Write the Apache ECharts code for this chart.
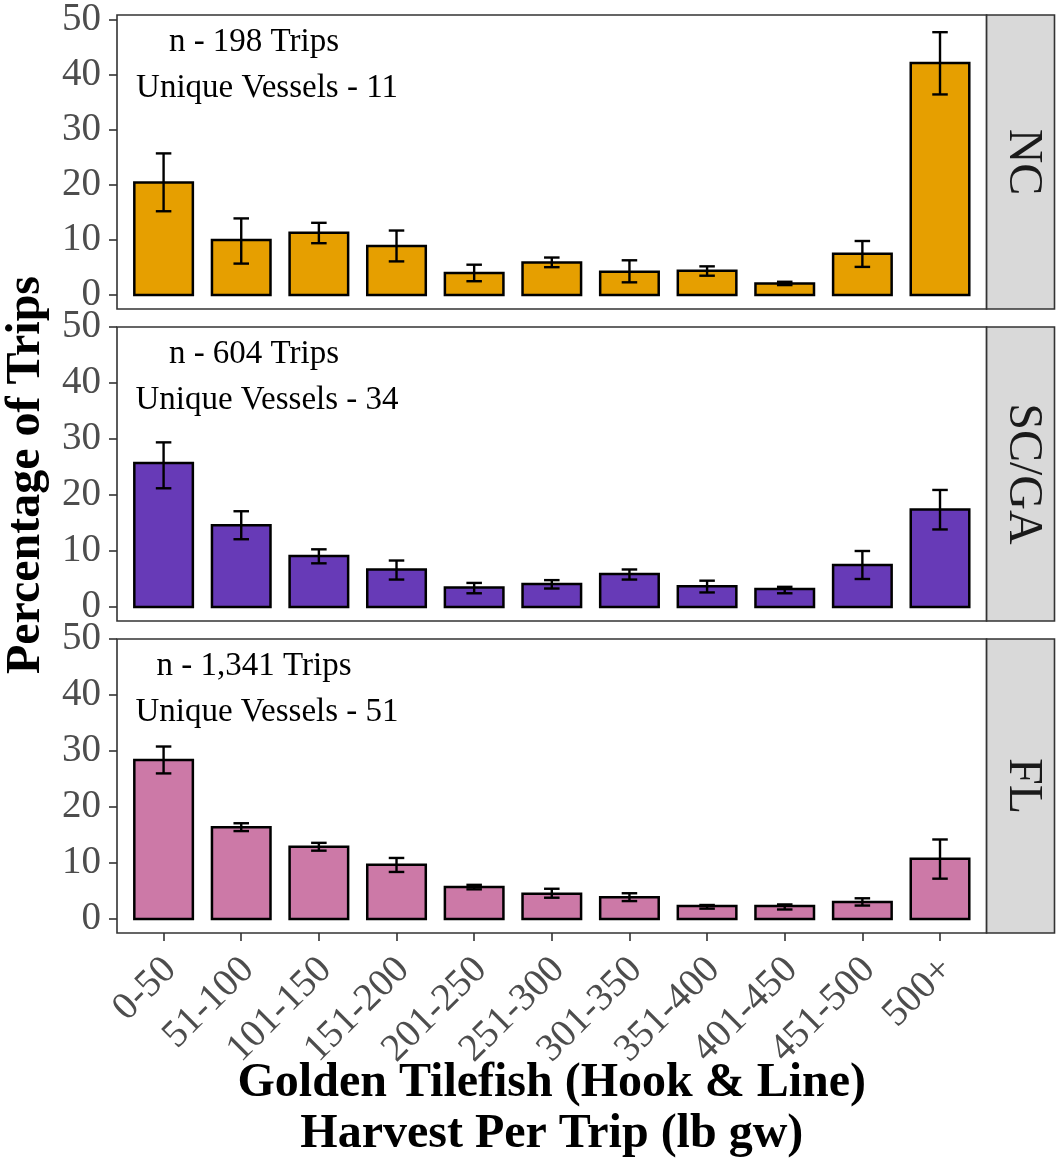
<!DOCTYPE html>
<html><head><meta charset="utf-8">
<script src="https://cdn.jsdelivr.net/npm/echarts@6/dist/echarts.min.js"></script>
<style>html,body{margin:0;padding:0;background:#fff}#c{width:1056px;height:1163px}</style>
</head><body><div id="c"></div>
<script>
// ---------- data ----------
const categories = ['0-50','51-100','101-150','151-200','201-250','251-300','301-350','351-400','401-450','451-500','500+'];
const yMin = 0, yMax = 50, yStep = 10;
const regions = ['NC', 'SC/GA', 'FL'];
const tripLabels = ['n - 198 Trips', 'n - 604 Trips', 'n - 1,341 Trips'];
const vesselLabels = ['Unique Vessels - 11', 'Unique Vessels - 34', 'Unique Vessels - 51'];

const ncPct  = [20.4, 10.0, 11.3, 8.9, 4.0, 5.9, 4.2, 4.4, 2.1, 7.5, 42.1];
const ncLow  = [15.2, 5.7, 9.4, 6.1, 2.5, 5.05, 2.3, 3.5, 1.8, 5.1, 36.4];
const ncHigh = [25.7, 13.9, 13.1, 11.7, 5.5, 6.8, 6.3, 5.2, 2.4, 9.8, 47.7];

const scPct  = [25.7, 14.6, 9.1, 6.7, 3.5, 4.1, 5.9, 3.7, 3.2, 7.5, 17.4];
const scLow  = [21.2, 12.1, 7.8, 4.9, 2.45, 3.3, 4.9, 2.6, 2.45, 5.0, 13.85];
const scHigh = [29.4, 17.1, 10.3, 8.3, 4.3, 4.8, 6.7, 4.7, 3.6, 10.0, 20.9];

const flPct  = [28.4, 16.4, 12.9, 9.7, 5.7, 4.5, 3.9, 2.3, 2.3, 3.05, 10.75];
const flLow  = [26.0, 15.7, 12.2, 8.4, 5.3, 3.8, 3.2, 1.85, 1.7, 2.4, 7.2];
const flHigh = [30.8, 17.1, 13.6, 10.9, 6.1, 5.4, 4.6, 2.5, 2.6, 3.7, 14.2];

const regionColors = ['#E69F00', '#673AB7', '#CC79A7'];

// ---------- layout / style ----------
const FONT = 'Liberation Serif, Times New Roman, serif';
const PANEL_LEFT = 117, PANEL_RIGHT = 986.6, PANEL_H = 294;
const PANEL_TOPS = [15, 327, 639];
const PLOT_H = 280;            // height spanned by 0..50
const STRIP_RIGHT = 1054.5;
const BAR_HALF = 0.377, CAP_HALF = 0.1;

const seriesData = [
  [ncPct, ncLow, ncHigh],
  [scPct, scLow, scHigh],
  [flPct, flLow, flHigh]
];

function makeRender(color) {
  return function (params, api) {
    const i = api.value(0), v = api.value(1), lo = api.value(2), hi = api.value(3);
    const tl = api.coord([i - BAR_HALF, v]);
    const br = api.coord([i + BAR_HALF, 0]);
    const pLo = api.coord([i, lo]), pHi = api.coord([i, hi]);
    const wl = api.coord([i - CAP_HALF, lo])[0], wr = api.coord([i + CAP_HALF, lo])[0];
    const ls = { stroke: '#000', lineWidth: 2.4 };
    return {
      type: 'group',
      children: [
        { type: 'rect', shape: { x: tl[0], y: tl[1], width: br[0] - tl[0], height: br[1] - tl[1] },
          style: { fill: color, stroke: '#000', lineWidth: 2.5 } },
        { type: 'line', shape: { x1: pLo[0], y1: pLo[1], x2: pHi[0], y2: pHi[1] }, style: ls },
        { type: 'line', shape: { x1: wl, y1: pLo[1], x2: wr, y2: pLo[1] }, style: ls },
        { type: 'line', shape: { x1: wl, y1: pHi[1], x2: wr, y2: pHi[1] }, style: ls }
      ]
    };
  };
}

const grids = [], xAxes = [], yAxes = [], series = [], graphics = [];
regions.forEach((r, k) => {
  const top = PANEL_TOPS[k];
  grids.push({ left: PANEL_LEFT, top: top, width: PANEL_RIGHT - PANEL_LEFT, height: PLOT_H, show: false });
  const isBottom = k === regions.length - 1;
  const tickIdx = categories.map((c, i) => i);
  xAxes.push({
    type: 'value', gridIndex: k, min: -0.6, max: 10.6, offset: PANEL_H - PLOT_H, position: 'bottom',
    axisLine: { show: false, onZero: false },
    splitLine: { show: false },
    axisTick: { show: isBottom, customValues: tickIdx, length: 8, lineStyle: { color: '#333333', width: 1.6 } },
    axisLabel: {
      show: isBottom, customValues: tickIdx, rotate: 45, margin: 10,
      verticalAlign: 'top', align: 'right', padding: [0, 10, 0, 0],
      formatter: v => categories[Math.round(v)] ?? '',
      fontFamily: FONT, fontSize: 39, color: '#4D4D4D'
    }
  });
  yAxes.push({
    type: 'value', gridIndex: k, min: yMin, max: yMax, interval: yStep, position: 'left',
    axisLine: { show: false, onZero: false },
    splitLine: { show: false },
    axisTick: { show: true, length: 8, lineStyle: { color: '#333333', width: 1.6 } },
    axisLabel: { show: true, margin: 16, fontFamily: FONT, fontSize: 39, color: '#4D4D4D' }
  });
  const [pct, lo, hi] = seriesData[k];
  series.push({
    type: 'custom', name: r, xAxisIndex: k, yAxisIndex: k,
    renderItem: makeRender(regionColors[k]),
    data: categories.map((c, i) => [i, pct[i], lo[i], hi[i]]),
    encode: { x: 0, y: [1, 2, 3] },
    clip: false, silent: true
  });
  // panel border
  graphics.push({ type: 'rect', shape: { x: PANEL_LEFT, y: top, width: PANEL_RIGHT - PANEL_LEFT, height: PANEL_H },
    style: { fill: null, stroke: '#333333', lineWidth: 1.6 }, z: 10 });
  // strip
  graphics.push({ type: 'rect', shape: { x: PANEL_RIGHT, y: top, width: STRIP_RIGHT - PANEL_RIGHT, height: PANEL_H },
    style: { fill: '#D9D9D9', stroke: '#333333', lineWidth: 1.6 }, z: 10 });
  graphics.push({ type: 'text', x: (PANEL_RIGHT + STRIP_RIGHT) / 2 + 2, y: top + PANEL_H / 2, rotation: -Math.PI / 2,
    style: { text: r, font: '48px ' + FONT, fill: '#1A1A1A', textAlign: 'center', textVerticalAlign: 'middle' }, z: 11 });
  // annotations
  graphics.push({ type: 'text', x: 254, y: top + 27,
    style: { text: tripLabels[k], font: '33px ' + FONT, fill: '#000', textAlign: 'center', textVerticalAlign: 'middle' }, z: 11 });
  graphics.push({ type: 'text', x: 267, y: top + 73,
    style: { text: vesselLabels[k], font: '33px ' + FONT, fill: '#000', textAlign: 'center', textVerticalAlign: 'middle' }, z: 11 });
});

// axis titles
graphics.push({ type: 'text', x: 27, y: 475, rotation: Math.PI / 2,
  style: { text: 'Percentage of Trips', font: 'bold 48px ' + FONT, fill: '#000', textAlign: 'center', textVerticalAlign: 'middle' } });
graphics.push({ type: 'text', x: (PANEL_LEFT + PANEL_RIGHT) / 2, y: 1084,
  style: { text: 'Golden Tilefish (Hook & Line)', font: 'bold 48px ' + FONT, fill: '#000', textAlign: 'center', textVerticalAlign: 'middle' } });
graphics.push({ type: 'text', x: (PANEL_LEFT + PANEL_RIGHT) / 2, y: 1135,
  style: { text: 'Harvest Per Trip (lb gw)', font: 'bold 48px ' + FONT, fill: '#000', textAlign: 'center', textVerticalAlign: 'middle' } });

const chart = echarts.init(document.getElementById('c'), null, { renderer: 'canvas' });
chart.setOption({
  animation: false,
  backgroundColor: '#ffffff',
  grid: grids,
  xAxis: xAxes,
  yAxis: yAxes,
  series: series,
  graphic: { elements: graphics }
});
</script>
</body></html>
